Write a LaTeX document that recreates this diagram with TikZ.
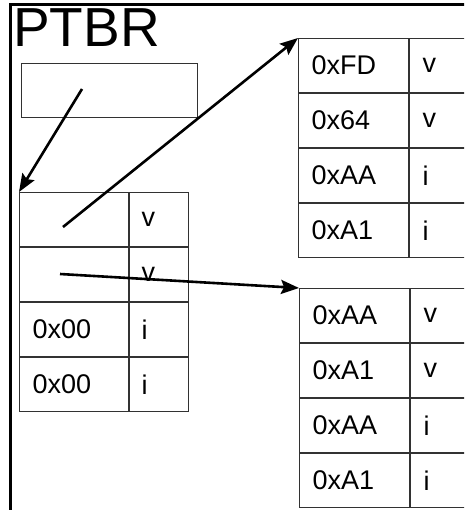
\documentclass[tikz,border=0pt]{standalone}
\usepackage{fontspec}
\setmainfont{Liberation Sans}
\usetikzlibrary{positioning,arrows.meta}
\definecolor{gridgray}{RGB}{50,50,50}
\tikzset{
    % Table cell styles
    cell/.style={
        rectangle, draw=gridgray, line width=1pt,
        minimum height=54pt, inner xsep=13pt, inner ysep=0pt,
        align=left, font=\fontsize{27}{29}\selectfont
    },
    keycell/.style={cell, text width=84pt},
    flagcell/.style={cell, text width=44pt},
    lkeycell/.style={cell, text width=83pt},
    lflagcell/.style={cell, inner xsep=12pt, text width=35pt},
    regbox/.style={
        rectangle, draw=gridgray, line width=1pt,
        minimum width=176pt, minimum height=54pt, anchor=north west
    },
    pointer/.style={
        -{Stealth[length=18pt,width=14pt,inset=3pt]}, line width=2.6pt, color=black
    },
    frame/.style={line width=3pt, color=black}
}
\begin{document}
\begin{tikzpicture}[x=1pt,y=-1pt]
\useasboundingbox (0,0) rectangle (464,510);
\clip (0,0) rectangle (464,510);

% Outer frame
\draw[frame] (10,512) -- (10,5) -- (470,5);

% Page table base register
\node[anchor=north west, inner sep=0pt, font=\fontsize{55}{55}\selectfont] (ptbr) at (13,8) {PTBR};
\node[regbox] (ptbrreg) at (21,63) {};

% First level table
\node[lkeycell, anchor=north west] (lt11) at (19,192) {};
\node[lflagcell, right=0pt of lt11] (lt12) {v};
\node[lkeycell, below=0pt of lt11] (lt21) {};
\node[lflagcell, right=0pt of lt21] (lt22) {v};
\node[lkeycell, below=0pt of lt21] (lt31) {0x00};
\node[lflagcell, right=0pt of lt31] (lt32) {i};
\node[lkeycell, below=0pt of lt31] (lt41) {0x00};
\node[lflagcell, right=0pt of lt41] (lt42) {i};

% Second level table (top)
\node[keycell, anchor=north west] (tr11) at (298,38) {0xFD};
\node[flagcell, right=0pt of tr11] (tr12) {v};
\node[keycell, below=0pt of tr11] (tr21) {0x64};
\node[flagcell, right=0pt of tr21] (tr22) {v};
\node[keycell, below=0pt of tr21] (tr31) {0xAA};
\node[flagcell, right=0pt of tr31] (tr32) {i};
\node[keycell, below=0pt of tr31] (tr41) {0xA1};
\node[flagcell, right=0pt of tr41] (tr42) {i};

% Second level table (bottom)
\node[keycell, anchor=north west] (br11) at (299,288) {0xAA};
\node[flagcell, right=0pt of br11] (br12) {v};
\node[keycell, below=0pt of br11] (br21) {0xA1};
\node[flagcell, right=0pt of br21] (br22) {v};
\node[keycell, below=0pt of br21] (br31) {0xAA};
\node[flagcell, right=0pt of br31] (br32) {i};
\node[keycell, below=0pt of br31] (br41) {0xA1};
\node[flagcell, right=0pt of br41] (br42) {i};

% Pointers
\coordinate (regptr) at (82,89);
\coordinate (entry1) at (63,227);
\coordinate (entry2) at (60,274);
\draw[pointer] (regptr) -- (lt11.north west);
\draw[pointer] (entry1) -- (tr11.north west);
\draw[pointer] (entry2) -- (br11.north west);

\end{tikzpicture}
\end{document}
